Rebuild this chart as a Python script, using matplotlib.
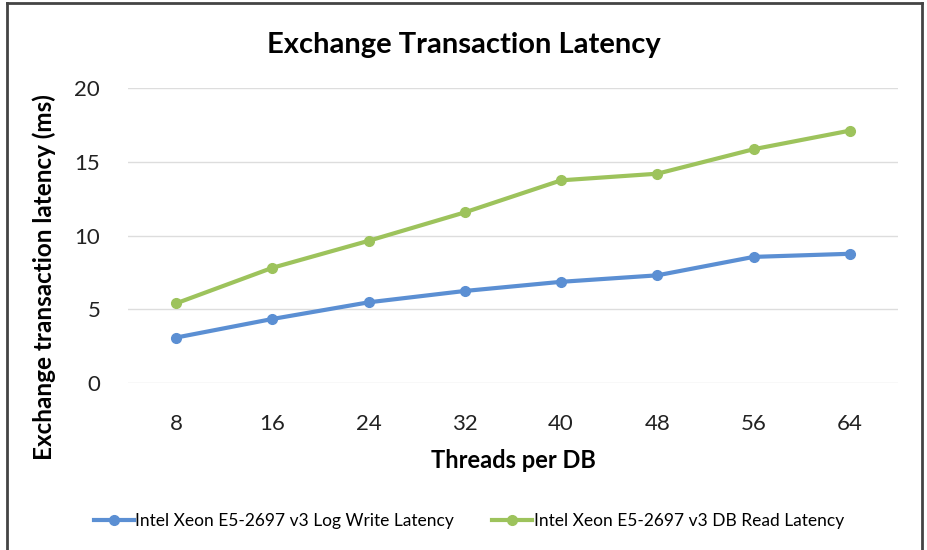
import matplotlib
matplotlib.use("Agg")
import matplotlib.pyplot as plt
from matplotlib.lines import Line2D

threads = ["8", "16", "24", "32", "40", "48", "56", "64"]
log_write = [3.08, 4.34, 5.47, 6.24, 6.86, 7.30, 8.55, 8.76]
db_read = [5.40, 7.81, 9.64, 11.57, 13.74, 14.19, 15.85, 17.11]

plt.rcParams['font.family'] = ['Lato', 'DejaVu Sans']

blue = "#5b8fd3"
green = "#9dc35c"

fig = plt.figure(figsize=(9.28, 5.5), dpi=100)
ax = fig.add_axes([128 / 928, 1 - 383 / 550, 770 / 928, 295 / 550])

x = range(len(threads))
ax.plot(x, log_write, '-o', color=blue, lw=3, ms=7, label="Intel Xeon E5-2697 v3 Log Write Latency")
ax.plot(x, db_read, '-o', color=green, lw=3, ms=7, label="Intel Xeon E5-2697 v3 DB Read Latency")

ax.set_xlim(-0.5, len(threads) - 0.5)
ax.set_ylim(0, 20)
ax.set_yticks([0, 5, 10, 15, 20])
ax.set_xticks(list(x))
ax.set_xticklabels(threads)
ax.tick_params(axis='both', length=0, labelsize=16, colors="#222222")
ax.tick_params(axis='y', pad=20)
ax.tick_params(axis='x', pad=22)
ax.grid(axis='y', color="#dddddd", lw=1)
ax.set_axisbelow(True)
for s in ax.spines.values():
    s.set_visible(False)

fig.text(0.5, 1 - 45 / 550, "Exchange Transaction Latency", fontsize=21, fontweight='bold',
         ha='center', va='center')
fig.text(513 / 928, 1 - 460 / 550, "Threads per DB", fontsize=17, fontweight='bold',
         ha='center', va='center')
fig.text(44 / 928, 1 - 277 / 550, "Exchange transaction latency (ms)", fontsize=17.5,
         fontweight='bold', rotation=90, ha='center', va='center')

fig.legend(loc='center', bbox_to_anchor=(469 / 928, 1 - 521 / 550), ncol=2, frameon=False,
           fontsize=12.5, handlelength=2.3, handletextpad=0.1, columnspacing=2.2)

# outer frame
fig.add_artist(Line2D([7 / 928, 7 / 928], [0, 1 - 3 / 550], color="#444444", lw=2))
fig.add_artist(Line2D([922 / 928, 922 / 928], [0, 1 - 3 / 550], color="#444444", lw=2))
fig.add_artist(Line2D([7 / 928, 922 / 928], [1 - 3 / 550, 1 - 3 / 550], color="#444444", lw=2))

fig.savefig("out.png", dpi=100)
